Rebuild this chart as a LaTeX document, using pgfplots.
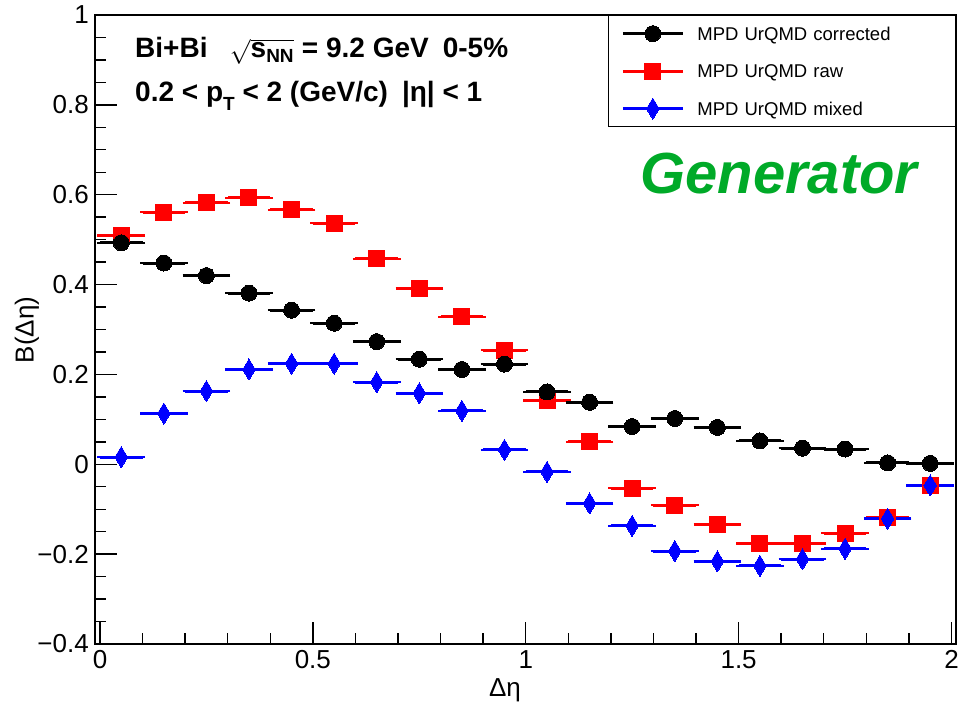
\documentclass[border=0pt]{standalone}
\usepackage{pgfplots}
\usepackage{pgfplotstable}
\pgfplotsset{compat=1.18}
\usepackage{fontspec}
\setmainfont{Liberation Sans}
\definecolor{gengreen}{RGB}{0,170,40}

\pgfplotstableread{
x y ex
0.05 0.493 0.05
0.15 0.448 0.05
0.25 0.420 0.05
0.35 0.381 0.05
0.45 0.343 0.05
0.55 0.314 0.05
0.65 0.273 0.05
0.75 0.234 0.05
0.85 0.211 0.05
0.95 0.223 0.05
1.05 0.161 0.05
1.15 0.138 0.05
1.25 0.084 0.05
1.35 0.102 0.05
1.45 0.082 0.05
1.55 0.052 0.05
1.65 0.036 0.05
1.75 0.034 0.05
1.85 0.003 0.05
1.95 0.002 0.05
}\corrected

\pgfplotstableread{
x y ex
0.05 0.509 0.05
0.15 0.561 0.05
0.25 0.582 0.05
0.35 0.593 0.05
0.45 0.566 0.05
0.55 0.537 0.05
0.65 0.457 0.05
0.75 0.391 0.05
0.85 0.328 0.05
0.95 0.254 0.05
1.05 0.142 0.05
1.15 0.050 0.05
1.25 -0.053 0.05
1.35 -0.091 0.05
1.45 -0.134 0.05
1.55 -0.176 0.05
1.65 -0.176 0.05
1.75 -0.153 0.05
1.85 -0.119 0.05
1.95 -0.047 0.05
}\raw

\pgfplotstableread{
x y ex
0.05 0.016 0.05
0.15 0.113 0.05
0.25 0.163 0.05
0.35 0.211 0.05
0.45 0.224 0.05
0.55 0.224 0.05
0.65 0.183 0.05
0.75 0.158 0.05
0.85 0.119 0.05
0.95 0.032 0.05
1.05 -0.017 0.05
1.15 -0.087 0.05
1.25 -0.137 0.05
1.35 -0.193 0.05
1.45 -0.216 0.05
1.55 -0.226 0.05
1.65 -0.211 0.05
1.75 -0.188 0.05
1.85 -0.121 0.05
1.95 -0.047 0.05
}\mixed

\begin{document}
\begin{tikzpicture}[x=1pt,y=1pt]
\begin{axis}[
  at={(95pt,66pt)}, anchor=south west,
  scale only axis, width=861pt, height=629pt,
  xmin=-0.0117, xmax=2.0106, ymin=-0.4, ymax=1,
  axis line style={line width=1.6pt},
  tick align=inside, tick pos=left,
  major tick length=22pt, minor tick length=11pt,
  every tick/.style={line width=1.4pt, black},
  xtick={0,0.5,1,1.5,2}, xticklabels={0,0.5,1,1.5,2},
  ytick={-0.4,-0.2,0,0.2,0.4,0.6,0.8,1},
  yticklabels={−0.4,−0.2,0,0.2,0.4,0.6,0.8,1},
  minor x tick num=4, minor y tick num=3,
  ticklabel style={font=\fontsize{26}{30}\selectfont},
  xticklabel style={inner sep=0pt, yshift=-6pt},
  yticklabel style={inner sep=0pt, xshift=-6pt},
  xlabel={Δη}, ylabel={B(Δη)},
  label style={font=\fontsize{26}{30}\selectfont},
  xlabel style={at={(axis description cs:0.4762,-0.0731)}, anchor=center},
  ylabel style={at={(axis description cs:-0.079,0.4992)}, anchor=center, rotate=0},
  legend style={at={(rel axis cs:1,1)}, anchor=north east, draw=black, line width=1.3pt,
    fill=white, inner xsep=13pt, inner ysep=7.5pt, row sep=16.5pt, column sep=13pt,
    font=\fontsize{18.5}{22}\selectfont,
    nodes={text width=245pt, inner sep=0pt, text height=17pt, text depth=4pt}},
  legend cell align=left,
  legend image code/.code={\draw[mark repeat=2,mark phase=2,#1] plot coordinates {(0pt,0pt) (30pt,0pt) (60pt,0pt)};},
]
\addlegendimage{black, line width=3pt, mark=*, mark size=8pt, mark options={line width=0pt}}
\addlegendimage{red, line width=3pt, mark=square*, mark size=8pt, mark options={line width=0pt}}
\addlegendimage{blue, line width=3pt, mark=diamond*, mark size=10.5pt, mark options={line width=0pt, xscale=0.8}}
\legend{MPD UrQMD corrected, MPD UrQMD raw, MPD UrQMD mixed}

\addplot[forget plot, only marks, red, mark=square*, mark size=8pt, mark options={line width=0pt},
  error bars/.cd, x dir=both, x explicit,
  error bar style={line width=3pt, red}, error mark options={line width=2.5pt, mark size=2.5pt, red}]
  table[x=x, y=y, x error=ex] {\raw};
\addplot[forget plot, only marks, blue, mark=diamond*, mark size=10.5pt, mark options={line width=0pt, xscale=0.8},
  error bars/.cd, x dir=both, x explicit,
  error bar style={line width=3pt, blue}, error mark options={line width=2.5pt, mark size=2.5pt, blue}]
  table[x=x, y=y, x error=ex] {\mixed};
\addplot[forget plot, only marks, black, mark=*, mark size=8pt, mark options={line width=0pt},
  error bars/.cd, x dir=both, x explicit,
  error bar style={line width=3pt, black}, error mark options={line width=2.5pt, mark size=2.5pt, black}]
  table[x=x, y=y, x error=ex] {\corrected};
\end{axis}

\node[anchor=base west, font=\bfseries\fontsize{28}{34}\selectfont, inner sep=0pt] at (135,652)
  {Bi+Bi\hspace{0.8em}$\sqrt{\mbox{s}_{\mbox{\fontsize{19}{20}\selectfont\bfseries NN}}}$ = 9.2 GeV\hspace{0.5em}0-5\%};
\node[anchor=base west, font=\bfseries\fontsize{28}{34}\selectfont, inner sep=0pt] at (135,608)
  {0.2 < p\raisebox{-9pt}{\fontsize{19}{20}\selectfont T} < 2 (GeV/c)\hspace{0.5em}|η| < 1};
\node[anchor=base west, font=\bfseries\itshape\fontsize{58}{60}\selectfont, text=gengreen, inner sep=0pt] at (640,516) {Generator};

\pgfresetboundingbox
\useasboundingbox (0,0) rectangle (958,710);
\end{tikzpicture}
\end{document}
